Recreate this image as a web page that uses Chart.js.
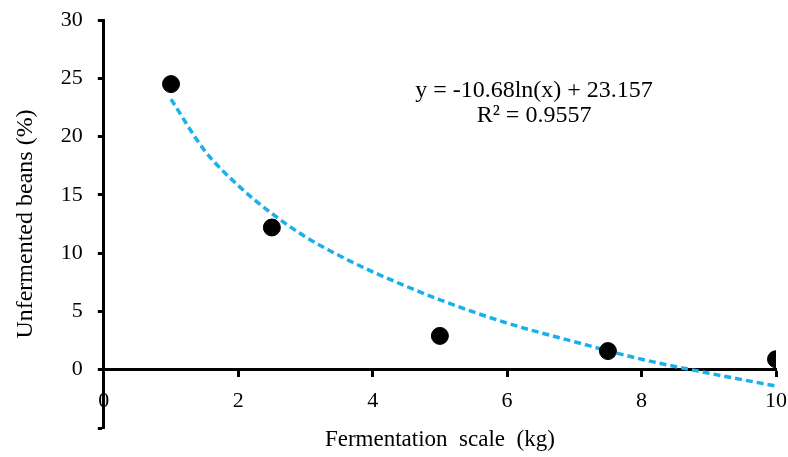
<!DOCTYPE html>
<html lang="en">
<head>
    <meta charset="UTF-8">
    <title>Unfermented beans vs fermentation scale</title>
    <script src="https://cdn.jsdelivr.net/npm/chart.js"></script>
    <style>
        html, body { margin: 0; padding: 0; background: #fff; }
        #wrap { width: 788px; height: 457px; }
    </style>
</head>
<body>
    <div id="wrap"><canvas id="grafico"></canvas></div>

    <script>
        // measured points
        const escala = [1, 2.5, 5, 7.5, 10];
        const naoFermentados = [24.5, 12.2, 2.9, 1.6, 0.9];

        // dashed trend line
        const trendX = [1, 1.5, 2, 2.5, 3, 3.5, 4, 5, 6, 7, 8, 9, 10];
        const trendY = [23.2, 18.8, 15.8, 13.4, 11.4, 9.8, 8.4, 6.0, 4.0, 2.4, 0.9, -0.3, -1.4];

        const equacao = ['y = -10.68ln(x) + 23.157', 'R² = 0.9557'];
        const posEquacao = { x: 6.4, y: 23.9 };

        const fonte = 'Liberation Serif, Times New Roman, serif';

        // draws the equation text at a data position
        const textoEquacao = {
            id: 'textoEquacao',
            afterDatasetsDraw(chart) {
                const ctx = chart.ctx;
                const px = chart.scales.x.getPixelForValue(posEquacao.x);
                const py = chart.scales.y.getPixelForValue(posEquacao.y);
                ctx.save();
                ctx.fillStyle = '#000';
                ctx.font = '24px ' + fonte;
                ctx.textAlign = 'center';
                ctx.textBaseline = 'middle';
                equacao.forEach((linha, i) => ctx.fillText(linha, px, py + i * 25));
                ctx.restore();
            }
        };

        new Chart(document.getElementById('grafico').getContext('2d'), {
            type: 'scatter',
            data: {
                datasets: [
                    {
                        label: 'Unfermented beans',
                        data: escala.map((x, i) => ({ x: x, y: naoFermentados[i] })),
                        backgroundColor: '#000',
                        borderColor: '#000',
                        pointRadius: 8.5,
                        pointHoverRadius: 8.5,
                        order: 1
                    },
                    {
                        label: 'Trend',
                        type: 'line',
                        data: trendX.map((x, i) => ({ x: x, y: trendY[i] })),
                        borderColor: '#1ab0ea',
                        borderWidth: 3.5,
                        borderDash: [7, 4],
                        pointRadius: 0,
                        fill: false,
                        cubicInterpolationMode: 'monotone',
                        order: 2
                    }
                ]
            },
            options: {
                responsive: true,
                maintainAspectRatio: false,
                animation: false,
                layout: { padding: { top: 20, right: 12, bottom: 29, left: 11 } },
                plugins: {
                    legend: { display: false },
                    tooltip: { enabled: false }
                },
                scales: {
                    x: {
                        type: 'linear',
                        position: { y: 0 },
                        min: 0,
                        max: 10,
                        // labels may hang past the plot edge
                        afterFit: s => { s.paddingLeft = 0; s.paddingRight = 0; },
                        ticks: {
                            stepSize: 2,
                            color: '#000',
                            padding: 12,
                            font: { family: fonte, size: 22 }
                        },
                        grid: {
                            drawOnChartArea: false,
                            drawTicks: true,
                            tickLength: 6,
                            tickWidth: 3,
                            tickColor: '#000'
                        },
                        border: { display: true, color: '#000', width: 3 },
                        title: {
                            display: true,
                            text: 'Fermentation  scale  (kg)',
                            color: '#000',
                            padding: { top: 0, bottom: 0 },
                            font: { family: fonte, size: 23 }
                        }
                    },
                    y: {
                        min: -5,
                        max: 30,
                        afterFit: s => { s.paddingTop = 0; s.paddingBottom = 0; },
                        ticks: {
                            stepSize: 5,
                            color: '#000',
                            padding: 15,
                            font: { family: fonte, size: 22 },
                            callback: v => (v < 0 ? '' : v)
                        },
                        grid: {
                            drawOnChartArea: false,
                            drawTicks: true,
                            tickLength: 6,
                            tickWidth: 3,
                            tickColor: '#000'
                        },
                        border: { display: true, color: '#000', width: 3 },
                        title: {
                            display: true,
                            text: 'Unfermented beans (%)',
                            color: '#000',
                            padding: { top: 0, bottom: 6 },
                            font: { family: fonte, size: 24 }
                        }
                    }
                }
            },
            plugins: [textoEquacao]
        });
    </script>
</body>
</html>
